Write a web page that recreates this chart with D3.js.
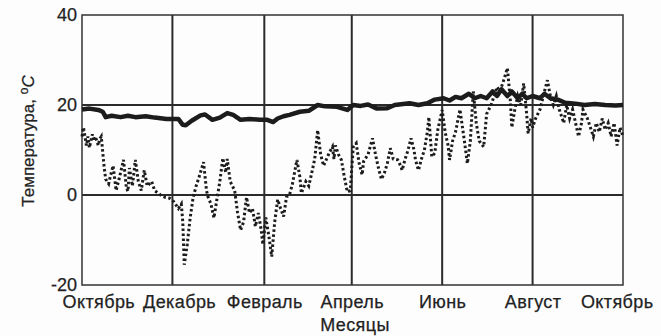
<!DOCTYPE html>
<html>
<head>
<meta charset="utf-8">
<script src="https://cdn.jsdelivr.net/npm/d3@7"></script>
<style>
  body { margin: 0; background: #fdfdfd; }
  text { font-family: "Liberation Sans", Arial, sans-serif; fill: #222; stroke: #222; stroke-width: 0.25px; }
</style>
</head>
<body>
<div id="chart"></div>
<script>
// days counted from 1 October
var outdoorDays = [0,1,3,4,5,7,8,9,11,12,13,15,16,18,19,21,23,25,28,30,31,32,34,36,38,40,42,44,47,49,53,56,59,62,65,67,68,69,71,72,73,75,77,79,82,84,85,87,89,91,93,95,97,98,100,103,105,107,109,111,113,115,117,119,121,122,124,126,128,130,132,134,136,138,140,142,145,147,148,151,153,155,157,159,161,163,165,167,169,170,171,173,175,177,179,181,183,185,187,189,190,193,196,198,200,202,204,206,208,210,213,215,216,218,220,222,224,225,227,229,231,233,234,236,238,240,243,245,247,248,250,252,255,258,260,262,264,266,268,271,273,276,278,280,282,285,287,289,290,292,294,296,298,300,301,303,304,306,309,312,314,316,318,320,322,325,327,329,331,333,335,337,338,341,343,345,347,349,351,353,355,357,359,361,363,365];
var outdoorTemp = [13,15,11,13,10.5,13.5,12,13,11,12.5,13,6,3.5,2.5,4,6.5,1,3.5,7.8,1.5,0.8,6,2,7.8,3,1,5.5,2,3,1,0,-0.5,-0.7,-1.5,-3,-2,-6,-15.5,-11,-8,-5,-0.5,2,4,7.3,1,-0.4,-2,-5.1,-1,3,8.2,5,8,3,1,-4,-7.8,-6,-0.5,-4,-3,-7,-4,-8,-11,-5,-9,-13.7,-6,-1,-3,-4.8,-0.4,0,2.5,7.8,4,0.4,3,2,4.9,8,14.4,9,6.5,8,9.5,10.7,8,11,9,7.8,4,0.7,1,10.7,11.5,7,4.5,7.5,9,12.6,9,6,3.5,4.9,7,10.4,8,7.8,6.5,5.5,8,10,12.6,10,7.8,5.5,8,10,14,17.3,8.5,9.3,14.4,18.9,14,11,7.8,12,14,19,12,7,12,23,16,12,10.7,18,20,22,24,23,26,28.2,21,15,19,22,20,24.8,18,13.7,17,15,17,19,23,25.5,22,20,22,19,16,20,17,19,16,13,16,19,17,15,13,16,14,17,14.5,16,13,16,11,15,13];

var indoorDays = [0,5,11,14,16,20,26,31,36,43,49,57,65,68,70,74,80,83,88,93,98,102,107,113,120,125,129,132,136,140,147,153,159,164,172,179,183,188,193,199,206,211,221,227,233,238,244,248,252,256,261,265,269,273,277,280,283,287,290,294,297,300,304,309,312,316,321,326,333,339,346,353,360,365];
var indoorTemp = [19,19.2,18.9,18.5,17.3,17.6,17.3,17.6,17.3,17.5,17.2,16.9,16.9,15.6,15.5,16.5,17.7,17.9,16.7,17.2,18.2,17.8,16.7,16.9,16.7,16.7,16.2,17,17.5,17.8,18.5,18.7,20,19.7,19.6,18.9,20,19.8,20.1,19.2,19.3,20,20.4,20,20.4,21.2,21.5,21,21.8,21.5,22.5,21.5,22,21.5,23,22,23.5,22,23,21.5,22.5,21.5,22,21.5,22.5,21.5,21.2,20.5,20.3,20,20.2,20,19.9,20];

var monthLabels = ["Октябрь", "Декабрь", "Февраль", "Апрель", "Июнь", "Август", "Октябрь"];
var monthOffsets = [0, 2, 4, 6, 8, 10, 12]; // months after 1 October
var tempTicks = [-20, 0, 20, 40];
var gridTemps = [0, 20];

var width = 661, height = 336;
var margin = {top: 15, right: 38, bottom: 51, left: 82};
var start = new Date(2000, 9, 1);
var end = d3.timeYear.offset(start, 1);
function dayToDate(d) { return d3.timeDay.offset(start, d); }

var svg = d3.select("#chart").append("svg")
    .attr("width", width)
    .attr("height", height);

var x = d3.scaleTime()
    .domain([start, end])
    .range([margin.left, width - margin.right]);

var y = d3.scaleLinear()
    .domain([-20, 40])
    .range([height - margin.bottom, margin.top]);

var monthTicks = monthOffsets.map(m => d3.timeMonth.offset(start, m));

// grid
svg.append("g").selectAll("line.v")
    .data(monthTicks.slice(1, -1))
    .enter().append("line")
    .attr("x1", d => x(d)).attr("x2", d => x(d))
    .attr("y1", margin.top).attr("y2", height - margin.bottom)
    .attr("stroke", "#2b2b2b").attr("stroke-width", 2);

svg.append("g").selectAll("line.h")
    .data(gridTemps)
    .enter().append("line")
    .attr("x1", margin.left).attr("x2", width - margin.right)
    .attr("y1", d => y(d)).attr("y2", d => y(d))
    .attr("stroke", "#2b2b2b").attr("stroke-width", 2);

svg.append("rect")
    .attr("x", margin.left).attr("y", margin.top)
    .attr("width", width - margin.left - margin.right)
    .attr("height", height - margin.top - margin.bottom)
    .attr("fill", "none").attr("stroke", "#333").attr("stroke-width", 1.5);

// series
var line = d3.line()
    .x(d => x(dayToDate(d[0])))
    .y(d => y(d[1]));

svg.append("path")
    .datum(indoorDays.map((d, i) => [d, indoorTemp[i]]))
    .attr("d", line)
    .attr("fill", "none")
    .attr("stroke", "#1c1c1c")
    .attr("stroke-width", 4.5)
    .attr("stroke-linejoin", "round");

svg.append("path")
    .datum(outdoorDays.map((d, i) => [d, outdoorTemp[i]]))
    .attr("d", line)
    .attr("fill", "none")
    .attr("stroke", "#1c1c1c")
    .attr("stroke-width", 3)
    .attr("stroke-dasharray", "2.5,2.5");

// axes
var yAxis = svg.append("g")
    .attr("transform", `translate(${margin.left},0)`)
    .call(d3.axisLeft(y).tickValues(tempTicks).tickSize(0).tickPadding(5)
        .tickFormat(d => String(d)));
yAxis.select(".domain").remove();
yAxis.selectAll("text").attr("font-size", 18).attr("fill", "#222");

var xAxis = svg.append("g")
    .attr("transform", `translate(0,${height - margin.bottom})`)
    .call(d3.axisBottom(x).tickValues(monthTicks).tickSize(0).tickPadding(10)
        .tickFormat((d, i) => monthLabels[i]));
xAxis.select(".domain").remove();
var xLabels = xAxis.selectAll("text")
    .attr("font-size", 18).attr("letter-spacing", 0.4).attr("fill", "#222");

// spread the month labels so they stay inside the picture and do not touch
var gap = 8, leftEdge = 62, rightEdge = 653;
var boxes = [];
xLabels.each(function(d) {
    boxes.push({node: this, cx: x(d), w: this.getComputedTextLength()});
});
boxes.forEach((b, i) => {
    var left = b.cx - b.w / 2;
    if (i === 0) left = Math.max(left, leftEdge);
    else left = Math.max(left, boxes[i - 1].left + boxes[i - 1].w + gap);
    b.left = left;
});
var last = boxes[boxes.length - 1];
if (last.left + last.w > rightEdge) last.left = rightEdge - last.w;
// text sits inside a tick group already moved to cx
boxes.forEach(b => {
    d3.select(b.node).attr("text-anchor", "start").attr("x", b.left - b.cx);
});

// titles
svg.append("text")
    .attr("x", 355)
    .attr("y", 331)
    .attr("text-anchor", "middle")
    .attr("font-size", 18)
    .attr("letter-spacing", 0.4)
    .text("Месяцы");

var yTitle = svg.append("text")
    .attr("transform", "translate(34,141) rotate(-90)")
    .attr("text-anchor", "middle")
    .attr("font-size", 17);
yTitle.append("tspan").text("Температура, ");
yTitle.append("tspan").attr("font-size", 12).attr("dy", -6).text("o");
yTitle.append("tspan").attr("dy", 6).attr("font-style", "italic").text("C");
</script>
</body>
</html>
